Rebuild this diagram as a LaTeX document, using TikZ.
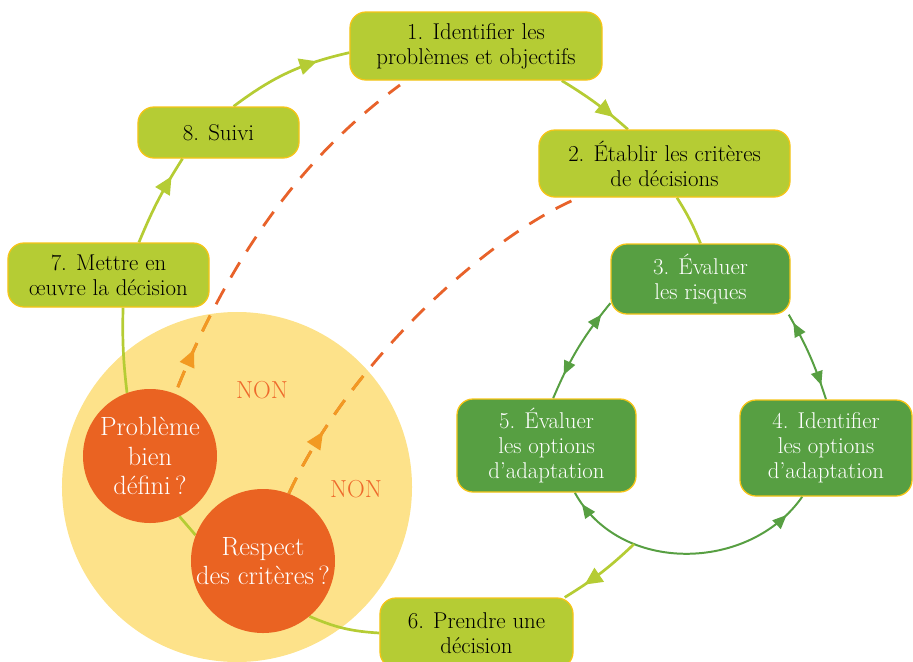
\documentclass[tikz,border=0pt]{standalone}
\usepackage{fontspec}
\usetikzlibrary{arrows.meta,decorations.markings,calc}
\definecolor{lime}{HTML}{B5CC34}
\definecolor{dgreen}{HTML}{579F42}
\definecolor{boxedge}{HTML}{F6C417}
\definecolor{sun}{HTML}{FDE28A}
\definecolor{dot}{HTML}{EA6322}
\definecolor{dashdark}{HTML}{E8622A}
\definecolor{dashlight}{HTML}{F29A22}
\definecolor{nontext}{HTML}{EE6A2C}
\pgfdeclarelayer{bg}
\pgfsetlayers{bg,main}
\begin{document}
\begin{tikzpicture}[x=0.03cm,y=-0.03cm,
  every node/.style={inner sep=0pt},
  box/.style={rounded corners=0.48cm, draw=boxedge, line width=1.1pt, align=center, font=\fontsize{19.5}{21.5}\selectfont},
  lbox/.style={box, fill=lime, text=black},
  gbox/.style={box, fill=dgreen, text=white},
  decide/.style={circle, fill=dot, text=white, align=center, inner sep=-10pt, font=\fontsize{22.5}{25}\selectfont},
  nonlabel/.style={text=nontext, font=\fontsize{21}{24}\selectfont},
  limeline/.style={draw=lime, line width=2.3pt},
  greenline/.style={draw=dgreen, line width=1.7pt},
  limearr/.style={decoration={markings, mark=at position #1 with {\arrow{Triangle[length=15pt,width=14pt]}}}, postaction=decorate},
  garr/.style 2 args={decoration={markings,
      mark=at position #1 with {\arrowreversed{Triangle[length=12pt,width=10pt]}},
      mark=at position #2 with {\arrow{Triangle[length=12pt,width=10pt]}}}, postaction=decorate},
  dashdk/.style={draw=dashdark, line width=2.4pt, dash pattern=on 15pt off 11pt},
  dashlt/.style={draw=dashlight, line width=2.4pt, dash pattern=on 15pt off 11pt,
      decoration={markings, mark=at position #1 with {\arrow[fill=dashlight]{Triangle[length=15pt,width=13pt]}}}, postaction=decorate}
]
\useasboundingbox (0,0) rectangle (913,661);

\begin{pgfonlayer}{bg}
  \node[circle, fill=sun, minimum size=10.5cm] (big) at (237,487) {};
\end{pgfonlayer}

% boxes
\node[lbox, minimum width=7.56cm, minimum height=2.04cm] (n1) at (476,46) {1. Identifier les\\problèmes et objectifs};
\node[lbox, minimum width=7.53cm, minimum height=2.01cm] (n2) at (664.5,163.5) {2. Établir les critères\\de décisions};
\node[gbox, minimum width=5.37cm, minimum height=2.1cm] (n3) at (700.5,279) {3. Évaluer\\les risques};
\node[gbox, minimum width=5.16cm, minimum height=2.88cm] (n4) at (826,448) {4. Identifier\\les options\\d’adaptation};
\node[gbox, minimum width=5.37cm, minimum height=2.79cm] (n5) at (546.5,445.5) {5. Évaluer\\les options\\d’adaptation};
\node[lbox, minimum width=5.79cm, minimum height=2.1cm] (n6) at (476.5,633) {6. Prendre une\\décision};
\node[lbox, minimum width=6.03cm, minimum height=1.92cm] (n7) at (108.5,275) {7. Mettre en\\œuvre la décision};
\node[lbox, minimum width=4.83cm, minimum height=1.53cm] (n8) at (218.5,132.5) {8. Suivi};

% decision circles
\node[decide, minimum size=4.02cm] (pb) at (150,456) {Problème\\bien\\défini\,?};
\node[decide, minimum size=4.32cm] (rc) at (263,561) {Respect\\des critères\,?};

\node[nonlabel] (non1) at (262,390) {NON};
\node[nonlabel] (non2) at (356,489) {NON};

\coordinate (d1e) at (400,85);
\coordinate (d2e) at (578,198);

\begin{pgfonlayer}{bg}
  % lime loop
  \draw[limeline, limearr=0.78] (n7.47) to[bend left=5] (n8.216);
  \draw[limeline, limearr=0.74] (n8.60) to[bend left=12] (n1.183);
  \draw[limeline, limearr=0.77] (n1.-22) to[bend left=5] (n2.137);
  \draw[limeline] (n2.-70) to[bend left=5] (n3.north);
  % green loop
  \draw[greenline, garr={0.05}{0.91}] (n5.-59) .. controls (620,575) and (750,572) .. coordinate[pos=0.3] (arcpt) (n4.244);
  \draw[greenline, garr={0.23}{0.87}] (n5.82) to[bend left=8] (n3.195);
  \draw[greenline, garr={0.16}{0.9}] (n4.north) to[bend right=6] (n3.-22);
  % towards decision
  \draw[limeline, limearr=0.73] (arcpt) to[bend left=6] (n6.22);
  \draw[limeline] (n6.west) to[bend left=10] (rc.-50);
  \draw[limeline] (rc.159) -- (pb.-64);
  \draw[limeline] (pb.110) to[bend left=4] (n7.-66);
  % dashed returns
  \draw[dashdk, shorten <=6pt] (pb.68) .. controls (242,228) and (325,140) .. (d1e);
  \draw[dashdk] (rc.69) .. controls (345,370) and (480,240) .. (d2e);
  \begin{scope}
    \clip (big.center) circle[radius=5.25cm];
    \draw[dashlt=1.45cm, shorten <=6pt] (pb.68) .. controls (242,228) and (325,140) .. (d1e);
    \draw[dashlt=2.13cm] (rc.69) .. controls (345,370) and (480,240) .. (d2e);
  \end{scope}
\end{pgfonlayer}
\end{tikzpicture}
\end{document}
